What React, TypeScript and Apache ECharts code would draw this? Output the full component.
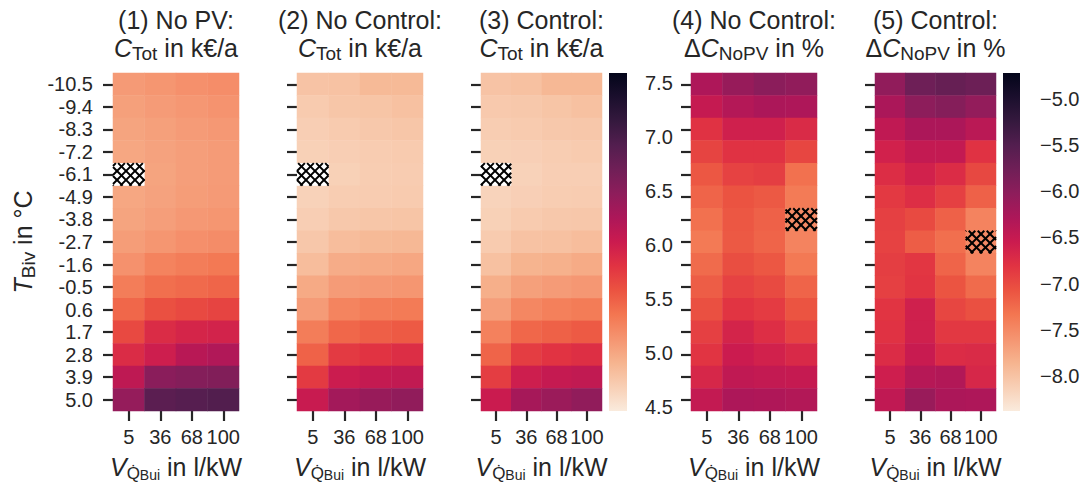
import React, { useEffect, useRef } from "react";
import * as echarts from "echarts";

const FONT = "'Liberation Sans', Arial, Helvetica, sans-serif";
const TXT = "#262626";

const xCats = ["5", "36", "68", "100"];
const yCats = ["-10.5", "-9.4", "-8.3", "-7.2", "-6.1", "-4.9", "-3.8", "-2.7", "-1.6", "-0.5", "0.6", "1.7", "2.8", "3.9", "5.0"];

// (1) No PV: C_Tot in k€/a
const noPV: (number | null)[][] = [
  [5.09, 5.12, 5.16, 5.18],
  [5.05, 5.08, 5.11, 5.14],
  [5.02, 5.05, 5.08, 5.10],
  [5.00, 5.03, 5.06, 5.08],
  [null, 5.02, 5.06, 5.08],
  [5.00, 5.03, 5.07, 5.09],
  [5.02, 5.06, 5.10, 5.12],
  [5.07, 5.12, 5.17, 5.19],
  [5.15, 5.26, 5.30, 5.33],
  [5.30, 5.40, 5.43, 5.46],
  [5.45, 5.60, 5.65, 5.68],
  [5.65, 5.87, 5.93, 5.95],
  [5.87, 6.00, 6.17, 6.22],
  [6.12, 6.50, 6.55, 6.57],
  [6.42, 6.86, 6.90, 6.93],
];

// (2) No Control: C_Tot in k€/a
const noControl: (number | null)[][] = [
  [4.78, 4.79, 4.86, 4.86],
  [4.72, 4.76, 4.77, 4.80],
  [4.69, 4.72, 4.74, 4.76],
  [4.67, 4.69, 4.71, 4.72],
  [null, 4.67, 4.70, 4.71],
  [4.66, 4.70, 4.71, 4.72],
  [4.69, 4.74, 4.76, 4.77],
  [4.75, 4.83, 4.86, 4.87],
  [4.83, 4.96, 4.98, 5.00],
  [4.98, 5.08, 5.10, 5.12],
  [5.08, 5.25, 5.30, 5.32],
  [5.30, 5.45, 5.50, 5.53],
  [5.48, 5.75, 5.80, 5.85],
  [5.75, 6.02, 6.08, 6.10],
  [6.05, 6.32, 6.40, 6.45],
];

// (3) Control: C_Tot in k€/a
const control: (number | null)[][] = [
  [4.78, 4.80, 4.87, 4.87],
  [4.73, 4.74, 4.77, 4.80],
  [4.70, 4.72, 4.74, 4.75],
  [4.67, 4.68, 4.70, 4.72],
  [null, 4.66, 4.69, 4.69],
  [4.65, 4.68, 4.70, 4.71],
  [4.67, 4.72, 4.74, 4.75],
  [4.72, 4.79, 4.80, 4.83],
  [4.80, 4.91, 4.93, 4.97],
  [4.94, 5.05, 5.08, 5.11],
  [5.06, 5.23, 5.28, 5.31],
  [5.27, 5.45, 5.49, 5.53],
  [5.47, 5.73, 5.80, 5.84],
  [5.73, 6.00, 6.07, 6.10],
  [6.03, 6.30, 6.38, 6.45],
];

// (4) No Control: ΔC_NoPV in %
const dNoControl: number[][] = [
  [-6.30, -6.10, -6.00, -6.05],
  [-6.50, -6.35, -6.28, -6.30],
  [-6.80, -6.60, -6.60, -6.72],
  [-6.95, -6.80, -6.80, -6.97],
  [-7.10, -6.93, -6.90, -7.30],
  [-7.20, -7.07, -7.12, -7.38],
  [-7.30, -7.10, -7.18, -7.50],
  [-7.37, -7.12, -7.20, -7.45],
  [-7.25, -7.03, -7.10, -7.36],
  [-7.15, -6.93, -7.00, -7.20],
  [-7.05, -6.82, -6.88, -7.08],
  [-6.92, -6.65, -6.76, -6.93],
  [-6.82, -6.55, -6.62, -6.70],
  [-6.68, -6.45, -6.48, -6.50],
  [-6.48, -6.29, -6.31, -6.33],
];

// (5) Control: ΔC_NoPV in %
const dControl: number[][] = [
  [-6.05, -5.75, -5.68, -5.73],
  [-6.27, -6.02, -5.95, -6.07],
  [-6.45, -6.28, -6.28, -6.40],
  [-6.62, -6.48, -6.48, -6.80],
  [-6.75, -6.62, -6.74, -6.98],
  [-6.86, -6.76, -6.92, -7.18],
  [-6.92, -7.00, -7.18, -7.45],
  [-6.93, -7.15, -7.28, -7.50],
  [-6.90, -6.84, -7.20, -7.45],
  [-6.92, -6.82, -7.08, -7.25],
  [-6.82, -6.60, -6.97, -7.05],
  [-6.80, -6.60, -6.85, -6.85],
  [-6.74, -6.52, -6.74, -6.72],
  [-6.58, -6.37, -6.33, -6.68],
  [-6.45, -6.12, -6.28, -6.30],
];

// hatched (optimum) cells: [column index, row index]
const hatch1 = [[0, 4]];
const hatch2 = [[0, 4]];
const hatch3 = [[0, 4]];
const hatch4 = [[3, 6]];
const hatch5 = [[3, 7]];

const costRange = [4.46, 7.59];
const deltaRange = [-8.38, -4.72];
const costTicks = [4.5, 5.0, 5.5, 6.0, 6.5, 7.0, 7.5];
const deltaTicks = [-8.0, -7.5, -7.0, -6.5, -6.0, -5.5, -5.0];

// seaborn "rocket" colormap, evenly spaced (dark -> light)
const rocket = [
  "#03051a", "#1b0f2d", "#35193e", "#531e4f", "#701f57", "#8e1d5b", "#ad1759", "#cb1b4f",
  "#e13342", "#eb5341", "#f37651", "#f59470", "#f6b48f", "#f8cfb5", "#faebdd",
];
const rocketR = [...rocket].reverse();

const panels = [
  { left: 113, width: 126, data: noPV, hatch: hatch1, hbg: "#ffffff" },
  { left: 297, width: 126, data: noControl, hatch: hatch2, hbg: "#ffffff" },
  { left: 481, width: 121, data: control, hatch: hatch3, hbg: "#ffffff" },
  { left: 691, width: 126, data: dNoControl, hatch: hatch4, hbg: null },
  { left: 875, width: 121, data: dControl, hatch: hatch5, hbg: null },
];
const TOP = 73;
const HEIGHT = 338;

function toCells(rows: (number | null)[][]) {
  const out: number[][] = [];
  rows.forEach((r, yi) => r.forEach((v, xi) => {
    if (v !== null) out.push([xi, yi, v]);
  }));
  return out;
}

function hatchRender(bg: string | null) {
  return (params: any, api: any) => {
    const c = api.coord([api.value(0), api.value(1)]);
    const s = api.size([1, 1]);
    const x0 = c[0] - s[0] / 2, x1 = c[0] + s[0] / 2;
    const y0 = c[1] - s[1] / 2, y1 = c[1] + s[1] / 2;
    const children: any[] = [];
    if (bg) children.push({ type: "rect", shape: { x: x0, y: y0, width: s[0], height: s[1] }, style: { fill: bg } });
    const P = 9;
    const ls = { stroke: "#000", lineWidth: 2 };
    for (let k = Math.floor((x0 - y1) / P) * P; k <= x1 - y0; k += P) {
      const xs = Math.max(x0, y0 + k), xe = Math.min(x1, y1 + k);
      if (xe > xs) children.push({ type: "line", shape: { x1: xs, y1: xs - k, x2: xe, y2: xe - k }, style: ls });
    }
    for (let k = Math.floor((x0 + y0) / P) * P; k <= x1 + y1; k += P) {
      const xs = Math.max(x0, k - y1), xe = Math.min(x1, k - y0);
      if (xe > xs) children.push({ type: "line", shape: { x1: xs, y1: k - xs, x2: xe, y2: k - xe }, style: ls });
    }
    return { type: "group", children };
  };
}

function colorbarRender(vmin: number, vmax: number) {
  return (params: any, api: any) => {
    const p0 = api.coord([0, vmax]);
    const p1 = api.coord([1, vmin]);
    return {
      type: "rect",
      shape: { x: p0[0], y: p0[1], width: p1[0] - p0[0], height: p1[1] - p0[1] },
      style: {
        fill: new echarts.graphic.LinearGradient(0, 0, 0, 1,
          rocket.map((c, i) => ({ offset: i / (rocket.length - 1), color: c }))),
      },
    };
  };
}

const rich = {
  n: { fontSize: 25, lineHeight: 30, fontFamily: FONT, fill: TXT },
  i: { fontSize: 25, lineHeight: 30, fontFamily: FONT, fontStyle: "italic", fill: TXT },
  s: { fontSize: 19, lineHeight: 16.8, verticalAlign: "bottom", fontFamily: FONT, fill: TXT },
  q: { fontSize: 17, lineHeight: 19.5, verticalAlign: "bottom", fontFamily: FONT, fill: TXT },
  b: { fontSize: 14, lineHeight: 11.4, verticalAlign: "bottom", fontFamily: FONT, fill: TXT },
};

const titles1 = ["(1) No PV:", "(2) No Control:", "(3) Control:", "(4) No Control:", "(5) Control:"];
const titles2 = [
  "{i|C}{s|Tot}{n| in k€/a}",
  "{i|C}{s|Tot}{n| in k€/a}",
  "{i|C}{s|Tot}{n| in k€/a}",
  "{n|Δ}{i|C}{s|NoPV}{n| in %}",
  "{n|Δ}{i|C}{s|NoPV}{n| in %}",
];
const xTitle = "{i|V}{q|Q\u0307}{b|Bui}{n| in l/kW}";
const yTitle = "{i|T}{s|Biv}{n| in °C}";

export default function App() {
  const ref = useRef<HTMLDivElement>(null);
  useEffect(() => {
    if (!ref.current) return;
    const chart = echarts.init(ref.current, null, { renderer: "svg" });

    const grids: any[] = panels.map((p) => ({ left: p.left, top: TOP, width: p.width, height: HEIGHT }));
    grids.push({ left: 609, top: TOP, width: 18, height: HEIGHT });
    grids.push({ left: 1003, top: TOP, width: 17, height: HEIGHT });

    const tickLine = { color: TXT, width: 2.2 };
    const xAxes: any[] = panels.map((p, i) => ({
      type: "category", gridIndex: i, data: xCats,
      axisLine: { show: false },
      axisTick: { show: true, alignWithLabel: true, interval: 0, length: 10, lineStyle: tickLine },
      axisLabel: { interval: 0, hideOverlap: false, fontSize: 20, color: TXT, fontFamily: FONT, margin: 16 },
      splitLine: { show: false },
    }));
    const yAxes: any[] = panels.map((p, i) => ({
      type: "category", gridIndex: i, data: yCats, inverse: true,
      axisLine: { show: false },
      axisTick: { show: true, alignWithLabel: true, interval: 0, length: 10, lineStyle: tickLine },
      axisLabel: { show: i === 0, interval: 0, hideOverlap: false, fontSize: 20, color: TXT, fontFamily: FONT, margin: 20 },
      splitLine: { show: false },
    }));
    [5, 6].forEach((g) => {
      xAxes.push({ type: "value", gridIndex: g, min: 0, max: 1, show: false });
    });
    yAxes.push({
      type: "value", gridIndex: 5, min: costRange[0], max: costRange[1], position: "right",
      axisLine: { show: false }, splitLine: { show: false },
      axisTick: { show: true, length: 9, lineStyle: tickLine, customValues: costTicks },
      axisLabel: { fontSize: 20, color: TXT, fontFamily: FONT, margin: 18, customValues: costTicks, formatter: (v: number) => v.toFixed(1) },
    });
    yAxes.push({
      type: "value", gridIndex: 6, min: deltaRange[0], max: deltaRange[1], position: "right",
      axisLine: { show: false }, splitLine: { show: false },
      axisTick: { show: true, length: 9, lineStyle: tickLine, customValues: deltaTicks },
      axisLabel: { fontSize: 20, color: TXT, fontFamily: FONT, margin: 20, customValues: deltaTicks, formatter: (v: number) => v.toFixed(1).replace("-", "\u2212") },
    });

    const series: any[] = panels.map((p, i) => ({
      type: "heatmap", xAxisIndex: i, yAxisIndex: i, data: toCells(p.data),
      itemStyle: { borderWidth: 0 }, emphasis: { disabled: true },
    }));
    panels.forEach((p, i) => {
      series.push({
        type: "custom", xAxisIndex: i, yAxisIndex: i, data: p.hatch,
        renderItem: hatchRender(p.hbg), z: 5, silent: true,
      });
    });
    series.push({ type: "custom", xAxisIndex: 5, yAxisIndex: 5, data: [[0, costRange[0]]], renderItem: colorbarRender(costRange[0], costRange[1]), silent: true });
    series.push({ type: "custom", xAxisIndex: 6, yAxisIndex: 6, data: [[0, deltaRange[0]]], renderItem: colorbarRender(deltaRange[0], deltaRange[1]), silent: true });

    const graphic: any[] = [];
    panels.forEach((p, i) => {
      const cx = p.left + p.width / 2;
      graphic.push({
        type: "text", x: cx, y: 20,
        style: { text: titles1[i], fontSize: 25, fontFamily: FONT, fill: TXT, align: "center", verticalAlign: "middle" },
      });
      graphic.push({
        type: "text", x: cx, y: 48,
        style: { text: titles2[i], rich, fill: TXT, fontSize: 25, fontFamily: FONT, align: "center", verticalAlign: "middle" },
      });
      graphic.push({
        type: "text", x: cx, y: 467,
        style: { text: xTitle, rich, fill: TXT, fontSize: 25, fontFamily: FONT, align: "center", verticalAlign: "middle" },
      });
    });
    graphic.push({
      type: "text", x: 23, y: 242, rotation: Math.PI / 2,
      style: { text: yTitle, rich, fill: TXT, fontSize: 25, fontFamily: FONT, align: "center", verticalAlign: "middle" },
    });

    chart.setOption({
      animation: false,
      backgroundColor: "#ffffff",
      grid: grids,
      xAxis: xAxes,
      yAxis: yAxes,
      visualMap: [
        { type: "continuous", show: false, min: costRange[0], max: costRange[1], dimension: 2, seriesIndex: [0, 1, 2], inRange: { color: rocketR } },
        { type: "continuous", show: false, min: deltaRange[0], max: deltaRange[1], dimension: 2, seriesIndex: [3, 4], inRange: { color: rocketR } },
      ],
      series,
      graphic,
    });
    return () => chart.dispose();
  }, []);
  return <div ref={ref} style={{ position: "fixed", left: 0, top: 0, width: 1086, height: 485 }} />;
}
